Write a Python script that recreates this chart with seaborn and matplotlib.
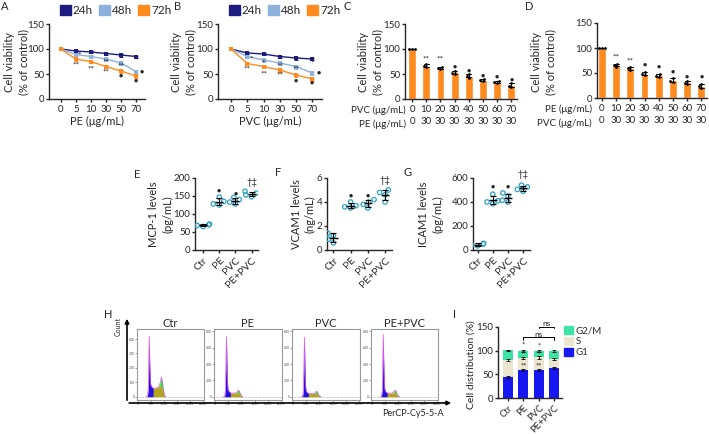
import matplotlib
matplotlib.use("Agg")
import numpy as np
import pandas as pd
import matplotlib.pyplot as plt
import seaborn as sns
from matplotlib.patches import Patch, FancyArrowPatch

W, H = 709, 434

# ---------------- data ----------------
dose_labels = ["0", "5", "10", "30", "50", "70"]
times = ["24h", "48h", "72h"]
pe_24h = [100, 96, 94, 91, 88, 85]
pe_48h = [100, 89, 85, 80, 72, 55]
pe_72h = [100, 80, 75, 65, 56, 46]
pvc_24h = [100, 92, 90, 85, 82, 80]
pvc_48h = [100, 85, 78, 72, 65, 52]
pvc_72h = [100, 71, 65, 58, 48, 40]
sd_24h = [0, 2, 2, 2, 3, 2]
sd_48h = [0, 3, 3, 3, 4, 3]
sd_72h = [0, 3, 3, 3, 3, 3]
a_marks = [(1.25, 89, "*"), (1, 68, "**"), (2, 61, "**"), (3, 74, "**"), (3, 54, "**"),
           (4, 82, "*"), (4, 66, "**"), (4, 47, "●"), (5, 78, "*"), (5.4, 56, "●"), (5, 37, "●")]
b_marks = [(1.25, 81, "*"), (1, 59, "**"), (2, 72, "*"), (2, 50, "**"), (3, 66, "**"), (3, 48, "**"),
           (4, 76, "*"), (4, 59, "**"), (4, 37, "●"), (5, 71, "*"), (5.4, 53, "●"), (5, 33, "●")]

combo_vary = ["0", "10", "20", "30", "40", "50", "60", "70"]
combo_fixed = ["0", "30", "30", "30", "30", "30", "30", "30"]
c_points = [[100, 100, 100], [64, 67, 70], [60, 62, 65], [50, 53, 57], [43, 47, 50],
            [36, 38, 41], [33, 35, 37], [24, 27, 32]]
d_points = [[100, 100, 100], [63, 66, 68], [57, 60, 63], [46, 49, 52], [43, 45, 48],
            [32, 35, 40], [28, 31, 35], [21, 24, 28]]
c_marks = [(1, 81, "**"), (2, 80, "**"), (3, 65, "●"), (4, 58, "●"), (5, 48, "●"), (6, 46, "●"), (7, 40, "●")]
d_marks = [(1, 82, "**"), (2, 75, "**"), (3, 67, "●"), (4, 63, "●"), (5, 53, "●"), (6, 43, "●"), (7, 43, "●")]

groups = ["Ctr", "PE", "PVC", "PE+PVC"]
mcp1_pts = [[65, 68, 70, 72], [125, 128, 135, 147], [128, 133, 140, 146], [148, 153, 158, 163]]
vcam1_pts = [[0.6, 0.9, 1.2, 1.4], [3.5, 3.6, 3.7, 4.0], [3.5, 3.8, 4.0, 4.2], [4.0, 4.6, 4.8, 5.0]]
icam1_pts = [[35, 42, 50, 55], [385, 400, 410, 465], [400, 415, 450, 475], [490, 505, 525, 540]]
e_marks = [(1, 166, "●"), (2, 158, "●"), (3, 188, "†‡")]
f_marks = [(1, 4.6, "●"), (2, 4.6, "●"), (3, 5.8, "†‡")]
g_marks = [(1, 536, "●"), (2, 530, "●"), (3, 628, "†‡")]

flow_x = [30, 36, 39, 41, 43, 45, 47, 49, 52, 58, 65, 72, 78, 83, 87, 90, 93, 97, 101, 106]
ctr_g1 = [0, 0, 40, 180, 390, 200, 60, 20, 5, 0, 0, 0, 0, 0, 0, 0, 0, 0, 0, 0]
ctr_s = [0, 0, 5, 15, 30, 45, 55, 62, 65, 60, 58, 62, 68, 74, 75, 70, 55, 30, 10, 0]
ctr_g2 = [0, 0, 0, 0, 0, 0, 0, 0, 0, 0, 0, 0, 0, 8, 35, 65, 55, 25, 5, 0]
pe_g1 = [0, 0, 70, 350, 700, 380, 120, 35, 10, 0, 0, 0, 0, 0, 0, 0, 0, 0, 0, 0]
pe_s = [0, 0, 5, 15, 35, 50, 58, 60, 58, 50, 45, 45, 48, 50, 50, 45, 35, 20, 6, 0]
pe_g2 = [0, 0, 0, 0, 0, 0, 0, 0, 0, 0, 0, 0, 0, 8, 25, 35, 25, 10, 3, 0]
pvc_g1 = [0, 0, 65, 340, 700, 370, 110, 30, 10, 0, 0, 0, 0, 0, 0, 0, 0, 0, 0, 0]
pvc_s = [0, 0, 5, 15, 30, 42, 48, 50, 48, 42, 38, 38, 40, 42, 42, 38, 30, 18, 5, 0]
pvc_g2 = [0, 0, 0, 0, 0, 0, 0, 0, 0, 0, 0, 0, 0, 6, 20, 30, 22, 8, 2, 0]
mix_g1 = [0, 0, 70, 360, 730, 390, 120, 35, 10, 0, 0, 0, 0, 0, 0, 0, 0, 0, 0, 0]
mix_s = [0, 0, 5, 15, 35, 50, 58, 58, 55, 48, 44, 44, 46, 50, 50, 45, 35, 20, 6, 0]
mix_g2 = [0, 0, 0, 0, 0, 0, 0, 0, 0, 0, 0, 0, 0, 8, 25, 35, 28, 10, 3, 0]

cycle_g1 = [44, 60, 60, 63]
cycle_s = [36, 25, 26, 19]
cycle_g2 = [21, 14, 13, 17]
cycle_g1_sd = [2, 2, 2, 2]
cycle_s_sd = [2, 2, 3, 2]
cycle_g2_sd = [1, 2, 2, 2]
i_marks = [(1, 111, "*"), (1, 94, "**"), (1, 68, "**"), (2, 110, "*"), (2, 94, "**"), (2, 68, "**")]

# ---------------- style ----------------
sns.set_style("ticks")
plt.rcParams["font.family"] = ["Lato", "DejaVu Sans"]
plt.rcParams["axes.linewidth"] = 1.0
plt.rcParams["xtick.major.width"] = 1.0
plt.rcParams["ytick.major.width"] = 1.0
plt.rcParams["xtick.major.size"] = 2.5
plt.rcParams["ytick.major.size"] = 2.5
plt.rcParams["xtick.major.pad"] = 1.5
plt.rcParams["ytick.major.pad"] = 1.0
plt.rcParams["xtick.labelsize"] = 7
plt.rcParams["ytick.labelsize"] = 7

line_colors = {"24h": "#1C1C80", "48h": "#8DB1DD", "72h": "#FF8A1E"}
orange = "#FF8A1E"
teal = "#2FA3C0"

fig = plt.figure(figsize=(W / 100, H / 100), dpi=100)


def px_axes(l, t, r, b):
    return fig.add_axes([l / W, 1 - b / H, (r - l) / W, (b - t) / H])


def fx(x):
    return x / W


def fy(y):
    return 1 - y / H


def letter(x, y, s):
    fig.text(fx(x), fy(y), s, fontsize=8, ha="center", va="center")


def clean(ax):
    sns.despine(ax=ax)


def marks(ax, items, fs_star=6, fs_dot=5):
    for x, y, t in items:
        fs = fs_dot if t == "●" else fs_star
        ax.text(x, y, t, ha="center", va="center", fontsize=fs, clip_on=False)


def ylab(text, xr, yc, fs=8):
    fig.text(fx(xr), fy(yc), text, rotation=90, ha="right", va="center",
             multialignment="center", fontsize=fs, linespacing=1.3)


# ---------------- A / B line panels ----------------
def line_panel(ax, series, xlabel, xlim, leg_x):
    rows = []
    for t, vals in zip(times, series):
        for i, v in enumerate(vals):
            rows.append({"pos": i, "val": v, "time": t})
    df = pd.DataFrame(rows)
    sns.lineplot(data=df, x="pos", y="val", hue="time", hue_order=times, palette=line_colors,
                 marker="s", markersize=3.2, markeredgewidth=0, linewidth=1.0,
                 legend=False, errorbar=None, ax=ax)
    for t, vals, sd in zip(times, series, [sd_24h, sd_48h, sd_72h]):
        ax.errorbar(range(len(vals)), vals, yerr=sd, fmt="none", ecolor=line_colors[t],
                    elinewidth=0.7, capsize=1.5, capthick=0.7)
    ax.set_xlim(*xlim)
    ax.set_ylim(0, 150)
    ax.set_yticks([0, 50, 100, 150])
    ax.set_xticks(range(len(dose_labels)))
    ax.set_xticklabels(dose_labels)
    ax.set_xlabel(xlabel, fontsize=8, labelpad=2)
    ax.set_ylabel("")
    clean(ax)
    handles = [Patch(color=line_colors[t], label=t) for t in times]
    ax.legend(handles=handles, loc="lower left", bbox_to_anchor=(fx(leg_x), fy(16)),
              bbox_transform=fig.transFigure, frameon=False, ncol=3, fontsize=8.5,
              handlelength=0.9, handleheight=0.9, handletextpad=0.2, columnspacing=0.5,
              borderpad=0, borderaxespad=0)


axA = px_axes(49, 24, 145, 99)
line_panel(axA, [pe_24h, pe_48h, pe_72h], "PE (μg/mL)", (-0.78, 5.6), 60)
marks(axA, a_marks)
axB = px_axes(218, 24, 322, 99)
line_panel(axB, [pvc_24h, pvc_48h, pvc_72h], "PVC (μg/mL)", (-0.8, 5.6), 229)
marks(axB, b_marks)

ylab("Cell viability\n(% of control)", 29, 62)
ylab("Cell viability\n(% of control)", 196, 62)
ylab("Cell viability\n(% of control)", 383, 62)
ylab("Cell viability\n(% of control)", 556, 62)
letter(5, 6, "A")
letter(178, 6, "B")
letter(347, 6, "C")
letter(529, 6, "D")


# ---------------- C / D bar panels ----------------
def bar_panel(ax, pts, row1, row2, xlim):
    df = pd.DataFrame({"pos": np.repeat(np.arange(len(pts)), [len(p) for p in pts]),
                       "val": np.concatenate(pts)})
    sns.barplot(data=df, x="pos", y="val", color=orange, saturation=1, errorbar="sd",
                capsize=0.35, width=0.55, err_kws={"color": "k", "linewidth": 0.7}, ax=ax)
    sns.swarmplot(data=df, x="pos", y="val", color="k", size=2.0, ax=ax)
    ax.set_xlim(*xlim)
    ax.set_ylim(0, 150)
    ax.set_yticks([0, 50, 100, 150])
    ax.set_xticks(range(len(row1)))
    ax.set_xticklabels([f"{a}\n{b}" for a, b in zip(row1, row2)], linespacing=1.45)
    ax.set_xlabel("")
    ax.set_ylabel("")
    clean(ax)


axC = px_axes(405, 24, 517, 99)
bar_panel(axC, c_points, combo_vary, combo_fixed, (-0.5, 7.4))
marks(axC, c_marks)
fig.text(fx(406), fy(110), "PVC (μg/mL)", ha="right", va="center", fontsize=7)
fig.text(fx(406), fy(124), "PE (μg/mL)", ha="right", va="center", fontsize=7)

axD = px_axes(597, 23, 707, 98)
bar_panel(axD, d_points, combo_vary, combo_fixed, (-0.35, 7.4))
marks(axD, d_marks)
fig.text(fx(592), fy(109), "PE (μg/mL)", ha="right", va="center", fontsize=7)
fig.text(fx(592), fy(123), "PVC (μg/mL)", ha="right", va="center", fontsize=7)


# ---------------- E / F / G dot panels ----------------
def dot_panel(ax, pts, ylim, yticks, xlim):
    df = pd.DataFrame({"grp": np.repeat(groups, [len(p) for p in pts]),
                       "val": np.concatenate(pts)})
    sns.swarmplot(data=df, x="grp", y="val", order=groups, color=teal, size=3.2, ax=ax)
    for c in ax.collections:
        c.set_facecolor("none")
        c.set_edgecolor(teal)
        c.set_linewidth(0.9)
    stats = df.groupby("grp")["val"].agg(["mean", "std"]).reindex(groups)
    for i, g in enumerate(groups):
        m, s = stats.loc[g, "mean"], stats.loc[g, "std"]
        ax.hlines(m, i - 0.25, i + 0.25, color="k", lw=1.0, zorder=5)
        ax.errorbar(i, m, yerr=s, fmt="none", ecolor="k", elinewidth=0.8, capsize=2.2,
                    capthick=0.8, zorder=5)
    ax.set_xlim(*xlim)
    ax.set_ylim(*ylim)
    ax.set_yticks(yticks)
    ax.set_xticks(range(len(groups)))
    ax.set_xticklabels(groups, rotation=45, ha="right", rotation_mode="anchor", fontsize=7.5)
    ax.set_xlabel("")
    ax.set_ylabel("")
    clean(ax)


axE = px_axes(195, 178, 258, 250)
dot_panel(axE, mcp1_pts, (0, 200), [0, 50, 100, 150, 200], (-0.5, 3.4))
marks(axE, e_marks, fs_star=7)
axF = px_axes(327, 178, 392, 250)
dot_panel(axF, vcam1_pts, (0, 6), [0, 2, 4, 6], (-0.37, 3.4))
marks(axF, f_marks, fs_star=7)
axG = px_axes(473, 178, 530, 250)
dot_panel(axG, icam1_pts, (0, 600), [0, 200, 400, 600], (-0.3, 3.45))
marks(axG, g_marks, fs_star=7)
ylab("MCP-1 levels\n(pg/mL)", 173, 214)
ylab("VCAM1 levels\n(ng/mL)", 316, 214)
ylab("ICAM1 levels\n(pg/mL)", 443, 214)
letter(137, 175, "E")
letter(278, 173, "F")
letter(408, 173, "G")

# ---------------- H flow histograms ----------------
flow_sets = [("Ctr", ctr_g1, ctr_s, ctr_g2, (-23, 470), [0, 100, 200, 300, 400], 137, 204),
             ("PE", pe_g1, pe_s, pe_g2, (-40, 830), [0, 200, 400, 600, 800], 214, 282),
             ("PVC", pvc_g1, pvc_s, pvc_g2, (-40, 830), [0, 200, 400, 600, 800], 292, 360),
             ("PE+PVC", mix_g1, mix_s, mix_g2, (-40, 830), [0, 200, 400, 600, 800], 371, 438)]
fxv = np.array(flow_x, dtype=float)
for title, g1, s, g2, ylim, yt, l, r in flow_sets:
    ax = px_axes(l, 329, r, 400)
    g1 = np.array(g1, float)
    s = np.array(s, float)
    g2 = np.array(g2, float)
    ax.axhline(0, color="#9A9A9A", lw=0.5, ls=(0, (1, 1)), zorder=0)
    ax.fill_between(fxv, 0, s, color="#B5A51E", lw=0)
    ax.fill_between(fxv, s, s + g2, color="#22E833", lw=0)
    mask = g1 > 0
    mask[1:] |= mask[:-1].copy()
    mask[:-1] |= (g1 > 0)[1:]
    ax.fill_between(fxv, 0, s + g1, where=mask, color="#2410E0", lw=0)
    ax.plot(fxv, s + g1 + g2, color="#E050E8", lw=0.5)
    ax.set_xlim(-4, 254)
    ax.set_ylim(*ylim)
    ax.set_yticks(yt)
    ax.set_yticklabels([str(v) for v in yt], fontsize=2.5)
    ax.set_xticks([0, 50, 100, 150, 200, 250])
    ax.set_xticklabels(["0", "50K", "100K", "150K", "200K", "250K"], fontsize=2.5)
    ax.tick_params(length=1.2, width=0.4, pad=0.5, colors="#555555")
    for sp in ax.spines.values():
        sp.set_color("#9A9A9A")
        sp.set_linewidth(0.8)
    ax.set_title(title, fontsize=8, pad=1.5)

fig.add_artist(FancyArrowPatch((fx(127), fy(403)), (fx(127), fy(316)), transform=fig.transFigure,
                               arrowstyle="-|>", mutation_scale=6, lw=1.2, color="k"))
fig.add_artist(FancyArrowPatch((fx(126.4), fy(403)), (fx(454), fy(403)), transform=fig.transFigure,
                               arrowstyle="-|>", mutation_scale=6, lw=1.2, color="k"))
fig.text(fx(118), fy(326), "Count", rotation=90, ha="center", va="center", fontsize=5)
fig.text(fx(444), fy(413), "PerCP-Cy5-5-A", ha="right", va="center", fontsize=6.5)
letter(108, 315, "H")

# ---------------- I cell cycle ----------------
axI = px_axes(498, 327, 562, 398)
pos = np.arange(len(groups))
c_g1, c_s, c_g2 = "#1717F2", "#ECE6D0", "#3EE3A6"
axI.bar(pos, cycle_g1, width=0.65, color=c_g1, lw=0)
axI.bar(pos, cycle_s, bottom=cycle_g1, width=0.65, color=c_s, lw=0)
top_s = np.add(cycle_g1, cycle_s)
axI.bar(pos, cycle_g2, bottom=top_s, width=0.65, color=c_g2, lw=0)
axI.errorbar(pos, cycle_g1, yerr=cycle_g1_sd, fmt="none", ecolor="k", elinewidth=0.6, capsize=1.5, capthick=0.6)
axI.errorbar(pos, top_s, yerr=cycle_s_sd, fmt="none", ecolor="k", elinewidth=0.6, capsize=1.5, capthick=0.6)
axI.errorbar(pos, top_s + np.array(cycle_g2), yerr=cycle_g2_sd, fmt="none", ecolor="k",
             elinewidth=0.6, capsize=1.5, capthick=0.6)
axI.set_xlim(-0.65, 3.5)
axI.set_ylim(0, 150)
axI.set_yticks([0, 50, 100, 150])
axI.set_xticks(pos)
axI.set_xticklabels(groups, rotation=45, ha="right", rotation_mode="anchor", fontsize=6.8)
clean(axI)
for x, y, t in i_marks:
    axI.text(x, y, t, ha="center", va="center", fontsize=5.5, color="#222222")
axI.plot([1, 1, 3, 3], [123, 128, 128, 123], color="k", lw=0.7, clip_on=False)
axI.text(2, 135, "ns", ha="center", va="center", fontsize=6, clip_on=False)
axI.plot([2, 2, 3, 3], [147, 151, 151, 147], color="k", lw=0.7, clip_on=False)
axI.text(2.5, 158, "ns", ha="center", va="center", fontsize=6, clip_on=False)
ylab("Cell distribution (%)", 476, 365, fs=7.5)
letter(455, 315, "I")
handles = [Patch(color=c_g2, label="G2/M"), Patch(color=c_s, label="S"), Patch(color=c_g1, label="G1")]
axI.legend(handles=handles, loc="upper left", bbox_to_anchor=(fx(564), fy(326)),
           bbox_transform=fig.transFigure, frameon=False, fontsize=7, handlelength=0.9,
           handleheight=0.9, labelspacing=0.15, handletextpad=0.3, borderpad=0, borderaxespad=0)

fig.savefig("out.png", dpi=100)
